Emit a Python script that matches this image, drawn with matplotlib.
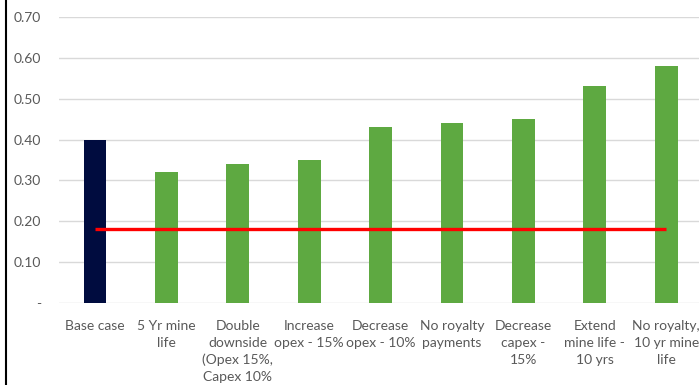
import matplotlib.pyplot as plt
import matplotlib.lines as mlines
import numpy as np

plt.rcParams["font.family"] = ["Lato", "DejaVu Sans"]

categories = [
    "Base case",
    "5 Yr mine\nlife",
    "Double\ndownside\n(Opex 15%,\nCapex 10%",
    "Increase\nopex - 15%",
    "Decrease\nopex - 10%",
    "No royalty\npayments",
    "Decrease\ncapex -\n15%",
    "Extend\nmine life -\n10 yrs",
    "No royalty,\n10 yr mine\nlife",
]
values = [0.40, 0.32, 0.34, 0.35, 0.43, 0.44, 0.45, 0.53, 0.58]
hurdle = [0.18] * len(categories)
y_ticks = [0.0, 0.1, 0.2, 0.3, 0.4, 0.5, 0.6, 0.7]
y_tick_labels = ["-", "0.10", "0.20", "0.30", "0.40", "0.50", "0.60", "0.70"]

navy = "#000c3f"
green = "#5ea941"
text_grey = "#595959"

fig = plt.figure(figsize=(6.99, 3.85), dpi=100)
ax = fig.add_axes([0.0848, 0.213, 0.9195, 0.743])

x = np.arange(len(categories))
colors = [navy] + [green] * (len(categories) - 1)
ax.bar(x, values, width=0.32, color=colors, zorder=2)
ax.plot(x, hurdle, color="#ff0000", linewidth=2.4, zorder=3, solid_capstyle="butt")

ax.set_xlim(-0.5, len(categories) - 0.5)
ax.set_ylim(0, 0.7)
ax.set_yticks(y_ticks)
ax.set_yticklabels(y_tick_labels)
ax.set_xticks(x)
ax.set_xticklabels(categories, linespacing=1.5)

ax.grid(axis="y", color="#d9d9d9", linewidth=1, zorder=0)
for s in ax.spines.values():
    s.set_visible(False)
ax.tick_params(axis="both", length=0, colors=text_grey, labelsize=10)
ax.tick_params(axis="y", pad=13)
ax.tick_params(axis="x", pad=12)

# left border of the chart box
fig.add_artist(mlines.Line2D([5.5 / 699, 5.5 / 699], [0, 1], color="black",
                             linewidth=1.5, transform=fig.transFigure))

fig.savefig("out.png", dpi=100)
